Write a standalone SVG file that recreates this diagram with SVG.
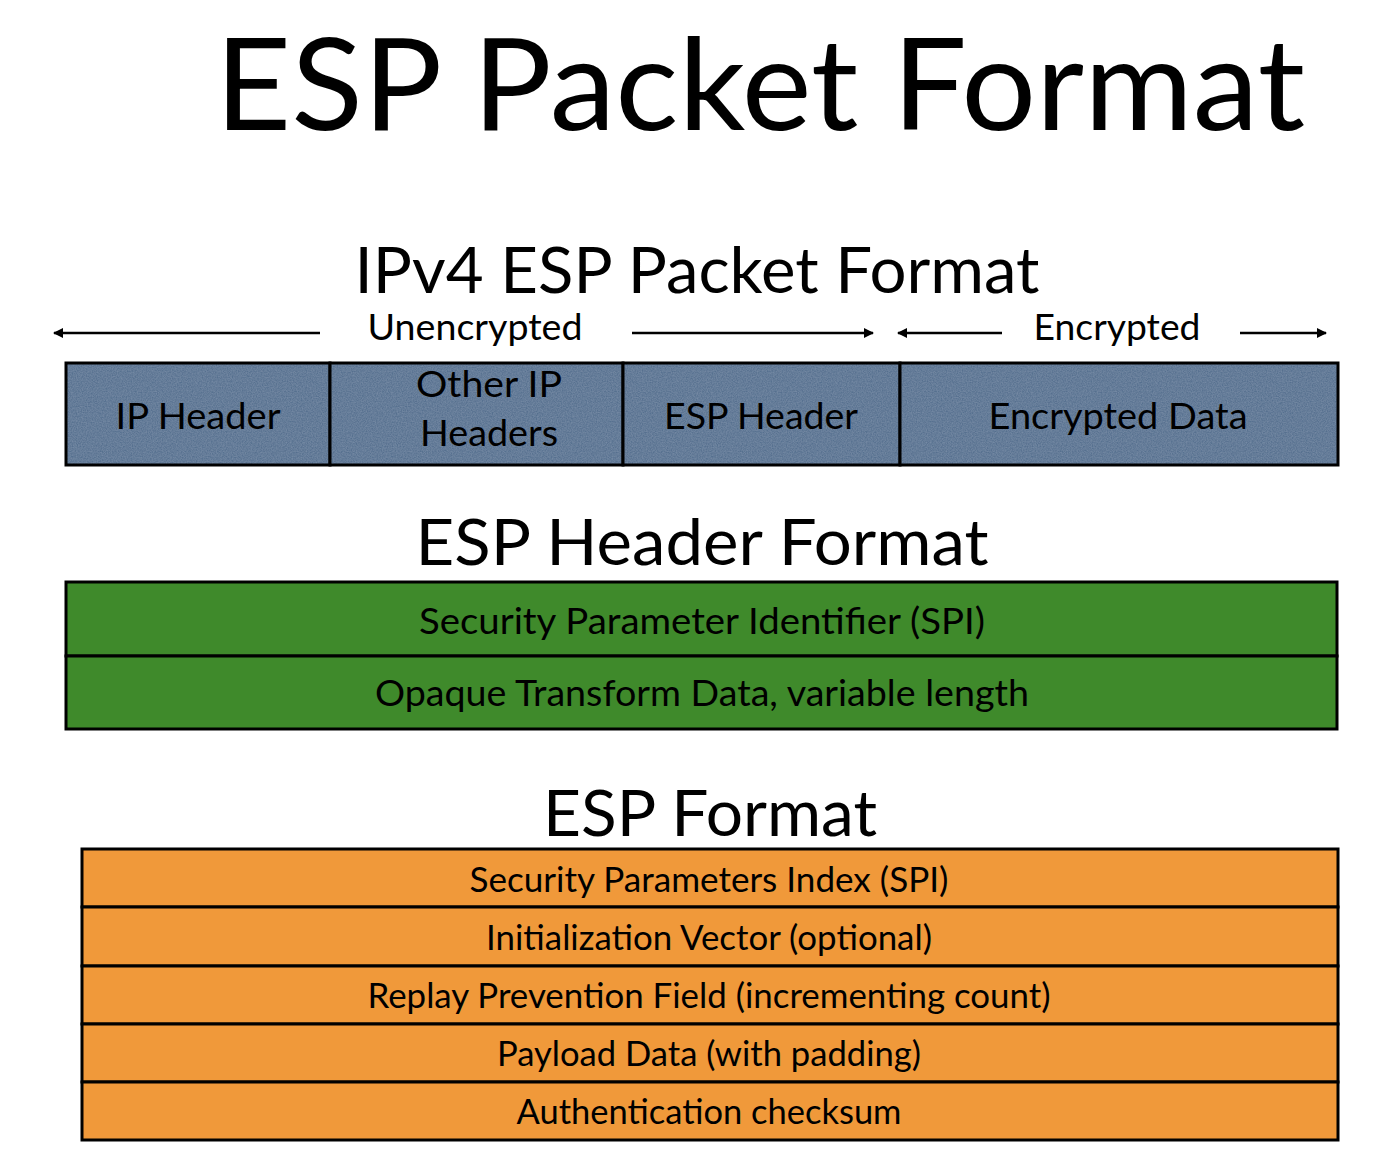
<svg xmlns="http://www.w3.org/2000/svg" width="1384" height="1168" viewBox="0 0 1384 1168">
  <style>
    .t { font-family: Lato, "Open Sans", "Liberation Sans", sans-serif; fill: #000; text-anchor: middle; }
    .title { font-size: 128px; }
    .sub { font-size: 64px; }
    .lbl { font-size: 37px; }
    .cell { font-size: 37px; }
    .row { font-size: 34px; }
    .box { stroke: #000; stroke-width: 3; }
    .edge { fill: none; stroke: #000; stroke-width: 3; }
    .blue { fill: #56708f; }
    .green { fill: #3f8a2b; }
    .orange { fill: #f0993a; }
    .arrow { stroke: #000; stroke-width: 2.5; fill: none; marker-end: url(#head); }
  </style>
  <defs>
    <marker id="head" viewBox="0 0 10 10" refX="9" refY="5" markerWidth="4" markerHeight="4" orient="auto">
      <path d="M0,0 L10,5 L0,10 z" fill="#000"/>
    </marker>
    <!-- fine speckle over the blue packet cells -->
    <filter id="grain" x="0" y="0" width="100%" height="100%">
      <feTurbulence type="fractalNoise" baseFrequency="0.8" numOctaves="2" seed="3" result="n"/>
      <feColorMatrix in="n" type="matrix" values="0 0 0 0 0.34  0 0 0 0 0.43  0 0 0 0 0.56  0 0 0 0.5 -0.1" result="g"/>
      <feComposite in="g" in2="SourceGraphic" operator="atop"/>
    </filter>
  </defs>

  <rect width="1384" height="1168" fill="#fff"/>

  <text class="t title" x="760" y="130" textLength="1090" lengthAdjust="spacingAndGlyphs">ESP Packet Format</text>

  <!-- IPv4 packet layout -->
  <text class="t sub" x="697" y="293" textLength="685" lengthAdjust="spacingAndGlyphs">IPv4 ESP Packet Format</text>

  <g id="connectors">
    <line class="arrow" x1="320" y1="333" x2="54" y2="333"/>
    <line class="arrow" x1="632" y1="333" x2="873" y2="333"/>
    <line class="arrow" x1="1002" y1="333" x2="898" y2="333"/>
    <line class="arrow" x1="1240" y1="333" x2="1326" y2="333"/>
  </g>
  <text class="t lbl" x="475" y="340" textLength="215" lengthAdjust="spacingAndGlyphs">Unencrypted</text>
  <text class="t lbl" x="1117" y="340" textLength="167" lengthAdjust="spacingAndGlyphs">Encrypted</text>

  <g id="ip-header">
    <rect class="blue" x="66" y="363" width="264" height="102" filter="url(#grain)"/>
    <rect class="edge" x="66" y="363" width="264" height="102"/>
    <text class="t cell" x="198" y="429" textLength="165" lengthAdjust="spacingAndGlyphs">IP Header</text>
  </g>
  <g id="other-ip-headers">
    <rect class="blue" x="330" y="363" width="293" height="102" filter="url(#grain)"/>
    <rect class="edge" x="330" y="363" width="293" height="102"/>
    <text class="t cell" x="489" y="397" textLength="146" lengthAdjust="spacingAndGlyphs">Other IP</text>
    <text class="t cell" x="489" y="446" textLength="138" lengthAdjust="spacingAndGlyphs">Headers</text>
  </g>
  <g id="esp-header">
    <rect class="blue" x="623" y="363" width="277" height="102" filter="url(#grain)"/>
    <rect class="edge" x="623" y="363" width="277" height="102"/>
    <text class="t cell" x="761" y="429" textLength="194" lengthAdjust="spacingAndGlyphs">ESP Header</text>
  </g>
  <g id="encrypted-data">
    <rect class="blue" x="900" y="363" width="438" height="102" filter="url(#grain)"/>
    <rect class="edge" x="900" y="363" width="438" height="102"/>
    <text class="t cell" x="1118" y="429" textLength="259" lengthAdjust="spacingAndGlyphs">Encrypted Data</text>
  </g>

  <!-- ESP header fields -->
  <text class="t sub" x="702" y="565" textLength="573" lengthAdjust="spacingAndGlyphs">ESP Header Format</text>
  <g id="spi-identifier">
    <rect class="box green" x="66" y="582" width="1271" height="74"/>
    <text class="t cell" x="702" y="634" textLength="566" lengthAdjust="spacingAndGlyphs">Security Parameter Identifier (SPI)</text>
  </g>
  <g id="opaque-data">
    <rect class="box green" x="66" y="656" width="1271" height="73"/>
    <text class="t cell" x="702" y="706" textLength="654" lengthAdjust="spacingAndGlyphs">Opaque Transform Data, variable length</text>
  </g>

  <!-- ESP payload fields -->
  <text class="t sub" x="710" y="836" textLength="334" lengthAdjust="spacingAndGlyphs">ESP Format</text>
  <g id="spi-index">
    <rect class="box orange" x="82" y="849" width="1256" height="58"/>
    <text class="t row" x="709" y="892" textLength="479" lengthAdjust="spacingAndGlyphs">Security Parameters Index (SPI)</text>
  </g>
  <g id="init-vector">
    <rect class="box orange" x="82" y="907" width="1256" height="59"/>
    <text class="t row" x="709" y="950" textLength="446" lengthAdjust="spacingAndGlyphs">Initialization Vector (optional)</text>
  </g>
  <g id="replay-field">
    <rect class="box orange" x="82" y="966" width="1256" height="58"/>
    <text class="t row" x="709" y="1008" textLength="683" lengthAdjust="spacingAndGlyphs">Replay Prevention Field (incrementing count)</text>
  </g>
  <g id="payload-data">
    <rect class="box orange" x="82" y="1024" width="1256" height="58"/>
    <text class="t row" x="709" y="1066" textLength="424" lengthAdjust="spacingAndGlyphs">Payload Data (with padding)</text>
  </g>
  <g id="auth-checksum">
    <rect class="box orange" x="82" y="1082" width="1256" height="58"/>
    <text class="t row" x="709" y="1124" textLength="385" lengthAdjust="spacingAndGlyphs">Authentication checksum</text>
  </g>
</svg>
